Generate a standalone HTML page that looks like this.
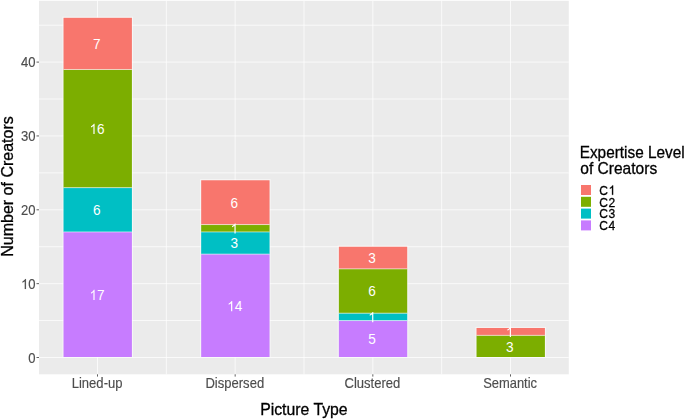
<!DOCTYPE html><html><head><meta charset="utf-8"><style>html,body{margin:0;padding:0;background:#fff;}svg{display:block;filter:blur(0.25px);}text{font-family:"Liberation Sans",sans-serif;}</style></head><body>
<svg width="685" height="419" viewBox="0 0 685 419">
<rect x="39.0" y="0.8" width="529.80" height="373.50" fill="#EBEBEB"/>
<line x1="39.0" x2="568.8" y1="320.57" y2="320.57" stroke="#fff" stroke-opacity="0.72" stroke-width="1.0"/>
<line x1="39.0" x2="568.8" y1="246.73" y2="246.73" stroke="#fff" stroke-opacity="0.72" stroke-width="1.0"/>
<line x1="39.0" x2="568.8" y1="172.88" y2="172.88" stroke="#fff" stroke-opacity="0.72" stroke-width="1.0"/>
<line x1="39.0" x2="568.8" y1="99.03" y2="99.03" stroke="#fff" stroke-opacity="0.72" stroke-width="1.0"/>
<line x1="39.0" x2="568.8" y1="25.18" y2="25.18" stroke="#fff" stroke-opacity="0.72" stroke-width="1.0"/>
<line x1="166.33" x2="166.33" y1="0.8" y2="374.3" stroke="#fff" stroke-opacity="0.72" stroke-width="1.0"/>
<line x1="304.00" x2="304.00" y1="0.8" y2="374.3" stroke="#fff" stroke-opacity="0.72" stroke-width="1.0"/>
<line x1="441.67" x2="441.67" y1="0.8" y2="374.3" stroke="#fff" stroke-opacity="0.72" stroke-width="1.0"/>
<line x1="39.0" x2="568.8" y1="357.50" y2="357.50" stroke="#fff" stroke-opacity="0.72" stroke-width="1.0"/>
<line x1="39.0" x2="568.8" y1="283.65" y2="283.65" stroke="#fff" stroke-opacity="0.72" stroke-width="1.0"/>
<line x1="39.0" x2="568.8" y1="209.80" y2="209.80" stroke="#fff" stroke-opacity="0.72" stroke-width="1.0"/>
<line x1="39.0" x2="568.8" y1="135.95" y2="135.95" stroke="#fff" stroke-opacity="0.72" stroke-width="1.0"/>
<line x1="39.0" x2="568.8" y1="62.10" y2="62.10" stroke="#fff" stroke-opacity="0.72" stroke-width="1.0"/>
<line x1="97.50" x2="97.50" y1="0.8" y2="374.3" stroke="#fff" stroke-opacity="0.72" stroke-width="1.0"/>
<line x1="235.17" x2="235.17" y1="0.8" y2="374.3" stroke="#fff" stroke-opacity="0.72" stroke-width="1.0"/>
<line x1="372.84" x2="372.84" y1="0.8" y2="374.3" stroke="#fff" stroke-opacity="0.72" stroke-width="1.0"/>
<line x1="510.51" x2="510.51" y1="0.8" y2="374.3" stroke="#fff" stroke-opacity="0.72" stroke-width="1.0"/>
<rect x="62.40" y="16.69" width="70.60" height="340.31" fill="#fff" fill-opacity="0.55"/>
<rect x="63.50" y="231.95" width="68.40" height="125.05" fill="#C77CFF"/>
<rect x="63.50" y="187.65" width="68.40" height="44.31" fill="#00BFC4"/>
<rect x="63.50" y="69.49" width="68.40" height="118.16" fill="#7CAE00"/>
<rect x="63.50" y="17.79" width="68.40" height="51.69" fill="#F8766D"/>
<line x1="63.50" x2="131.90" y1="231.95" y2="231.95" stroke="#fff" stroke-opacity="0.8" stroke-width="0.7"/>
<line x1="63.50" x2="131.90" y1="187.65" y2="187.65" stroke="#fff" stroke-opacity="0.8" stroke-width="0.7"/>
<line x1="63.50" x2="131.90" y1="69.49" y2="69.49" stroke="#fff" stroke-opacity="0.8" stroke-width="0.7"/>
<rect x="200.07" y="179.16" width="70.60" height="177.84" fill="#fff" fill-opacity="0.55"/>
<rect x="201.17" y="254.11" width="68.40" height="102.89" fill="#C77CFF"/>
<rect x="201.17" y="231.95" width="68.40" height="22.16" fill="#00BFC4"/>
<rect x="201.17" y="224.57" width="68.40" height="7.38" fill="#7CAE00"/>
<rect x="201.17" y="180.26" width="68.40" height="44.31" fill="#F8766D"/>
<line x1="201.17" x2="269.57" y1="254.11" y2="254.11" stroke="#fff" stroke-opacity="0.8" stroke-width="0.7"/>
<line x1="201.17" x2="269.57" y1="231.95" y2="231.95" stroke="#fff" stroke-opacity="0.8" stroke-width="0.7"/>
<line x1="201.17" x2="269.57" y1="224.57" y2="224.57" stroke="#fff" stroke-opacity="0.8" stroke-width="0.7"/>
<rect x="337.74" y="245.63" width="70.60" height="111.37" fill="#fff" fill-opacity="0.55"/>
<rect x="338.84" y="320.57" width="68.40" height="36.43" fill="#C77CFF"/>
<rect x="338.84" y="313.19" width="68.40" height="7.38" fill="#00BFC4"/>
<rect x="338.84" y="268.88" width="68.40" height="44.31" fill="#7CAE00"/>
<rect x="338.84" y="246.73" width="68.40" height="22.15" fill="#F8766D"/>
<line x1="338.84" x2="407.24" y1="320.57" y2="320.57" stroke="#fff" stroke-opacity="0.8" stroke-width="0.7"/>
<line x1="338.84" x2="407.24" y1="313.19" y2="313.19" stroke="#fff" stroke-opacity="0.8" stroke-width="0.7"/>
<line x1="338.84" x2="407.24" y1="268.88" y2="268.88" stroke="#fff" stroke-opacity="0.8" stroke-width="0.7"/>
<rect x="475.41" y="326.86" width="70.60" height="30.14" fill="#fff" fill-opacity="0.55"/>
<rect x="476.51" y="335.35" width="68.40" height="21.65" fill="#7CAE00"/>
<rect x="476.51" y="327.96" width="68.40" height="7.39" fill="#F8766D"/>
<line x1="476.51" x2="544.91" y1="335.35" y2="335.35" stroke="#fff" stroke-opacity="0.8" stroke-width="0.7"/>
<g transform="translate(97.10,300.06) scale(0.96,1)" fill="#fff"><path transform="translate(-7.90,0) scale(0.00693,-0.00693)" d="M763 0H583V1147Q518 1085 412.5 1023Q307 961 223 930V1104Q374 1175 487 1276Q600 1377 647 1472H763Z" vector-effect="non-scaling-stroke"/><text x="0.00" y="0" font-size="14.20">7</text></g>
<g transform="translate(96.70,215.13) scale(0.96,1)" fill="#fff"><text x="-3.95" y="0" font-size="14.20">6</text></g>
<g transform="translate(97.10,133.89) scale(0.96,1)" fill="#fff"><path transform="translate(-7.90,0) scale(0.00693,-0.00693)" d="M763 0H583V1147Q518 1085 412.5 1023Q307 961 223 930V1104Q374 1175 487 1276Q600 1377 647 1472H763Z" vector-effect="non-scaling-stroke"/><text x="0.00" y="0" font-size="14.20">6</text></g>
<g transform="translate(96.70,48.97) scale(0.96,1)" fill="#fff"><text x="-3.95" y="0" font-size="14.20">7</text></g>
<g transform="translate(234.77,311.13) scale(0.96,1)" fill="#fff"><path transform="translate(-7.90,0) scale(0.00693,-0.00693)" d="M763 0H583V1147Q518 1085 412.5 1023Q307 961 223 930V1104Q374 1175 487 1276Q600 1377 647 1472H763Z" vector-effect="non-scaling-stroke"/><text x="0.00" y="0" font-size="14.20">4</text></g>
<g transform="translate(234.37,248.36) scale(0.96,1)" fill="#fff"><text x="-3.95" y="0" font-size="14.20">3</text></g>
<g transform="translate(234.37,233.59) scale(0.96,1)" fill="#fff"><path transform="translate(-3.95,0) scale(0.00693,-0.00693)" d="M763 0H583V1147Q518 1085 412.5 1023Q307 961 223 930V1104Q374 1175 487 1276Q600 1377 647 1472H763Z" vector-effect="non-scaling-stroke"/></g>
<g transform="translate(234.37,207.74) scale(0.96,1)" fill="#fff"><text x="-3.95" y="0" font-size="14.20">6</text></g>
<g transform="translate(372.04,344.37) scale(0.96,1)" fill="#fff"><text x="-3.95" y="0" font-size="14.20">5</text></g>
<g transform="translate(372.04,322.21) scale(0.96,1)" fill="#fff"><path transform="translate(-3.95,0) scale(0.00693,-0.00693)" d="M763 0H583V1147Q518 1085 412.5 1023Q307 961 223 930V1104Q374 1175 487 1276Q600 1377 647 1472H763Z" vector-effect="non-scaling-stroke"/></g>
<g transform="translate(372.04,296.36) scale(0.96,1)" fill="#fff"><text x="-3.95" y="0" font-size="14.20">6</text></g>
<g transform="translate(372.04,263.13) scale(0.96,1)" fill="#fff"><text x="-3.95" y="0" font-size="14.20">3</text></g>
<g transform="translate(509.71,351.75) scale(0.96,1)" fill="#fff"><text x="-3.95" y="0" font-size="14.20">3</text></g>
<g transform="translate(509.71,336.98) scale(0.96,1)" fill="#fff"><path transform="translate(-3.95,0) scale(0.00693,-0.00693)" d="M763 0H583V1147Q518 1085 412.5 1023Q307 961 223 930V1104Q374 1175 487 1276Q600 1377 647 1472H763Z" vector-effect="non-scaling-stroke"/></g>
<line x1="36.5" x2="39.0" y1="357.50" y2="357.50" stroke="#444" stroke-width="0.85"/>
<g transform="translate(35.60,362.78) scale(0.95,1)" fill="#4D4D4D" stroke="#4D4D4D" stroke-width="0.15"><text x="-7.65" y="0" font-size="13.76">0</text></g>
<line x1="36.5" x2="39.0" y1="283.65" y2="283.65" stroke="#444" stroke-width="0.85"/>
<g transform="translate(35.60,288.93) scale(0.95,1)" fill="#4D4D4D" stroke="#4D4D4D" stroke-width="0.15"><path transform="translate(-15.30,0) scale(0.00672,-0.00672)" d="M763 0H583V1147Q518 1085 412.5 1023Q307 961 223 930V1104Q374 1175 487 1276Q600 1377 647 1472H763Z" vector-effect="non-scaling-stroke"/><text x="-7.65" y="0" font-size="13.76">0</text></g>
<line x1="36.5" x2="39.0" y1="209.80" y2="209.80" stroke="#444" stroke-width="0.85"/>
<g transform="translate(35.60,215.08) scale(0.95,1)" fill="#4D4D4D" stroke="#4D4D4D" stroke-width="0.15"><text x="-15.30" y="0" font-size="13.76">2</text><text x="-7.65" y="0" font-size="13.76">0</text></g>
<line x1="36.5" x2="39.0" y1="135.95" y2="135.95" stroke="#444" stroke-width="0.85"/>
<g transform="translate(35.60,141.23) scale(0.95,1)" fill="#4D4D4D" stroke="#4D4D4D" stroke-width="0.15"><text x="-15.30" y="0" font-size="13.76">3</text><text x="-7.65" y="0" font-size="13.76">0</text></g>
<line x1="36.5" x2="39.0" y1="62.10" y2="62.10" stroke="#444" stroke-width="0.85"/>
<g transform="translate(35.60,67.38) scale(0.95,1)" fill="#4D4D4D" stroke="#4D4D4D" stroke-width="0.15"><text x="-15.30" y="0" font-size="13.76">4</text><text x="-7.65" y="0" font-size="13.76">0</text></g>
<line x1="97.50" x2="97.50" y1="374.3" y2="376.6" stroke="#444" stroke-width="0.85"/>
<text transform="translate(97.10,387.9) scale(0.95,1)" font-size="13.76" fill="#4D4D4D" stroke="#4D4D4D" stroke-width="0.15" text-anchor="middle">Lined-up</text>
<line x1="235.17" x2="235.17" y1="374.3" y2="376.6" stroke="#444" stroke-width="0.85"/>
<text transform="translate(234.77,387.9) scale(0.95,1)" font-size="13.76" fill="#4D4D4D" stroke="#4D4D4D" stroke-width="0.15" text-anchor="middle">Dispersed</text>
<line x1="372.84" x2="372.84" y1="374.3" y2="376.6" stroke="#444" stroke-width="0.85"/>
<text transform="translate(372.44,387.9) scale(0.95,1)" font-size="13.76" fill="#4D4D4D" stroke="#4D4D4D" stroke-width="0.15" text-anchor="middle">Clustered</text>
<line x1="510.51" x2="510.51" y1="374.3" y2="376.6" stroke="#444" stroke-width="0.85"/>
<text transform="translate(510.11,387.9) scale(0.94,1)" font-size="13.76" fill="#4D4D4D" stroke="#4D4D4D" stroke-width="0.15" text-anchor="middle">Semantic</text>
<text x="303.9" y="415.1" font-size="15.8" fill="#000" stroke="#000" stroke-width="0.3" text-anchor="middle">Picture Type</text>
<text transform="translate(12.6,186.5) rotate(-90)" x="0" y="0" font-size="16" fill="#000" stroke="#000" stroke-width="0.3" text-anchor="middle">Number of Creators</text>
<text transform="translate(579.67,157.9) scale(0.95,1)" font-size="16.17" fill="#000" stroke="#000" stroke-width="0.3">Expertise Level</text>
<text transform="translate(580.28,174.2) scale(0.962,1)" font-size="16.17" fill="#000" stroke="#000" stroke-width="0.3">of Creators</text>
<rect x="581" y="185.00" width="10" height="10" fill="#F8766D"/>
<g transform="translate(599.20,194.80) scale(0.92,1)" fill="#000" stroke="#000" stroke-width="0.3"><text x="0.00" y="0" font-size="13.10">C</text><path transform="translate(10.23,0) scale(0.00640,-0.00640)" d="M763 0H583V1147Q518 1085 412.5 1023Q307 961 223 930V1104Q374 1175 487 1276Q600 1377 647 1472H763Z" vector-effect="non-scaling-stroke"/></g>
<rect x="581" y="196.80" width="10" height="10" fill="#7CAE00"/>
<g transform="translate(599.20,206.60) scale(0.92,1)" fill="#000" stroke="#000" stroke-width="0.3"><text x="0.00" y="0" font-size="13.10">C</text><text x="10.23" y="0" font-size="13.10">2</text></g>
<rect x="581" y="208.60" width="10" height="10" fill="#00BFC4"/>
<g transform="translate(599.20,218.40) scale(0.92,1)" fill="#000" stroke="#000" stroke-width="0.3"><text x="0.00" y="0" font-size="13.10">C</text><text x="10.23" y="0" font-size="13.10">3</text></g>
<rect x="581" y="220.40" width="10" height="10" fill="#C77CFF"/>
<g transform="translate(599.20,230.20) scale(0.92,1)" fill="#000" stroke="#000" stroke-width="0.3"><text x="0.00" y="0" font-size="13.10">C</text><text x="10.23" y="0" font-size="13.10">4</text></g>
</svg></body></html>
